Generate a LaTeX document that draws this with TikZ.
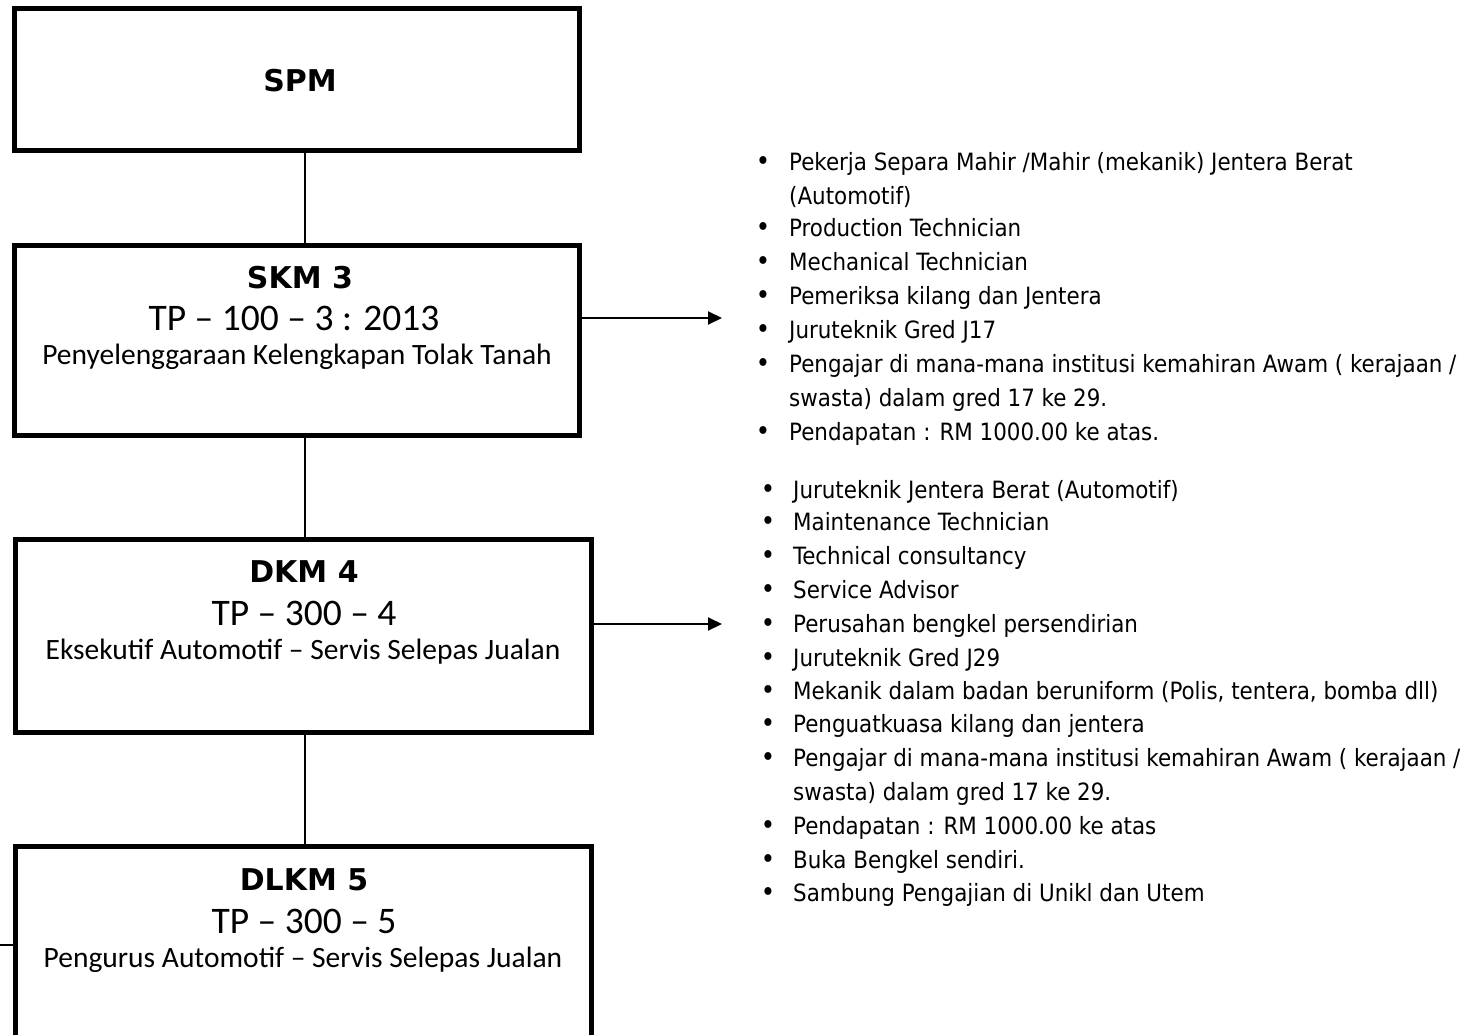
\documentclass[tikz,border=0pt]{standalone}
\usepackage{fontspec}
\setmainfont{Carlito}
\newfontfamily\titlefont{DejaVu Sans}
\newfontfamily\listfont{DejaVu Sans Condensed}
\usetikzlibrary{arrows.meta,positioning}

\begin{document}
\begin{tikzpicture}[x=1pt,y=-1pt,
		box/.style={draw,line width=5pt,inner sep=0pt},
		ttl/.style={font=\titlefont\bfseries\fontsize{30}{32}\selectfont,inner sep=0pt},
		code/.style={font=\fontsize{37.5}{40}\selectfont,inner sep=0pt},
		desc/.style={font=\fontsize{29.5}{32}\selectfont,inner sep=0pt},
		item/.style={anchor=base west,font=\listfont\fontsize{23.8}{26}\selectfont,inner sep=0pt},
		dot/.style={anchor=base,font=\listfont\fontsize{27}{28}\selectfont,inner sep=0pt},
		link/.style={line width=2pt},
		goto/.style={line width=2pt,-{Triangle[length=14pt,width=13pt]}}]
	\useasboundingbox (0,0) rectangle (1470,1034);
	\clip (0,0) rectangle (1470,1034);
	% qualification boxes
	\node [box,minimum width=565pt,minimum height=142pt] (spm) at (297,79) {};
	\node [box,minimum width=565pt,minimum height=190pt] (skm) at (297,340) {};
	\node [box,minimum width=576pt,minimum height=193pt] (dkm) at (303,635.5) {};
	\node [box,minimum width=576pt,minimum height=300pt] (dlkm) at (303,996) {};
	\node [ttl] (spmT) at (300,81) {SPM};
	\node [ttl] (skmT) at (300,278) {SKM 3};
	\node [code] (skmC) at (294,318) {TP -- 100 -- 3 : 2013};
	\node [desc] (skmD) at (297,357) {Penyelenggaraan Kelengkapan Tolak Tanah};
	\node [ttl] (dkmT) at (304,572) {DKM 4};
	\node [code] (dkmC) at (304,613) {TP -- 300 -- 4};
	\node [desc] (dkmD) at (303,652) {Eksekutif Automotif -- Servis Selepas Jualan};
	\node [ttl] (dlkmT) at (304,880) {DLKM 5};
	\node [code] (dlkmC) at (304,921) {TP -- 300 -- 5};
	\node [desc] (dlkmD) at (303,960) {Pengurus Automotif -- Servis Selepas Jualan};
	% links
	\draw [link] (spm.south -| 305,0) -- (skm.north -| 305,0);
	\draw [link] (skm.south -| 305,0) -- (dkm.north -| 305,0);
	\draw [link] (dkm.south -| 305,0) -- (dlkm.north -| 305,0);
	\coordinate (offleft) at (-2,945);
	\draw [link] (offleft) -- (dlkm.west |- offleft);
	% job lists
	\coordinate (listA) at (722,318);
	\coordinate (listB) at (722,624);
	\draw [goto] (skm.east |- listA) -- (listA);
	\draw [goto] (dkm.east |- listB) -- (listB);
	\foreach \y/\b/\t [count=\i] in {
			162/1/{Pekerja Separa Mahir /Mahir (mekanik) Jentera Berat},
			196/0/(Automotif),
			228/1/Production Technician,
			262/1/Mechanical Technician,
			296/1/Pemeriksa kilang dan Jentera,
			330/1/Juruteknik Gred J17,
			364/1/{Pengajar di mana-mana institusi kemahiran Awam ( kerajaan /},
			398/0/swasta) dalam gred 17 ke 29.,
			432/1/Pendapatan : RM 1000.00 ke atas.}{
		\node [item] (jobA\i) at (789,\y+8.5) {\t};
		\ifnum\b=1 \node [dot] (dotA\i) at (763,\y+8.5) {•};\fi
	}
	\foreach \y/\b/\t [count=\i] in {
			490/1/Juruteknik Jentera Berat (Automotif),
			522/1/Maintenance Technician,
			556/1/Technical consultancy,
			590/1/Service Advisor,
			624/1/Perusahan bengkel persendirian,
			658/1/Juruteknik Gred J29,
			691/1/{Mekanik dalam badan beruniform (Polis, tentera, bomba dll)},
			724/1/Penguatkuasa kilang dan jentera,
			758/1/{Pengajar di mana-mana institusi kemahiran Awam ( kerajaan /},
			792/0/swasta) dalam gred 17 ke 29.,
			826/1/Pendapatan : RM 1000.00 ke atas,
			860/1/Buka Bengkel sendiri.,
			893/1/Sambung Pengajian di Unikl dan Utem}{
		\node [item] (jobB\i) at (793,\y+8.5) {\t};
		\ifnum\b=1 \node [dot] (dotB\i) at (768,\y+8.5) {•};\fi
	}
\end{tikzpicture}
\end{document}
